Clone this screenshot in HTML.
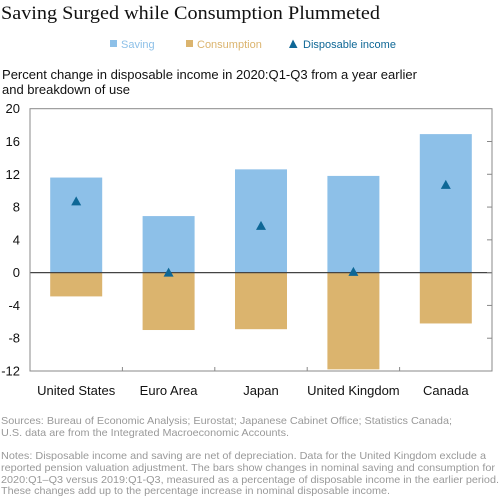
<!DOCTYPE html>
<html><head><meta charset="utf-8"><style>
html,body{margin:0;padding:0;background:#fff;width:500px;height:499px;overflow:hidden}
svg{display:block;font-family:"Liberation Sans",Arial,sans-serif}
</style></head><body>
<svg id="chart" width="500" height="499" viewBox="0 0 500 499">
<text x="1" y="19" font-family="Liberation Serif,serif" font-size="19" fill="#111" textLength="379" lengthAdjust="spacingAndGlyphs">Saving Surged while Consumption Plummeted</text>
<g font-size="11">
<g><rect x="110" y="40" width="7" height="7" fill="#8dc0e8"/><text x="121" y="48" fill="#8dc0e8">Saving</text></g>
<g><rect x="186" y="40" width="7" height="7" fill="#dbb46e"/><text x="197" y="48" fill="#dbb46e">Consumption</text></g>
<g><polygon points="289,48 293,39.5 297.5,48" fill="#0e6796"/><text x="303" y="48" fill="#0e6796">Disposable income</text></g>
</g>
<text x="2" y="79" font-size="13" fill="#111" textLength="415" lengthAdjust="spacingAndGlyphs">Percent change in disposable income in 2020:Q1-Q3 from a year earlier</text>
<text x="2" y="94" font-size="13" fill="#111">and breakdown of use</text>
<g id="plot"></g>
<g font-size="10.3" fill="#999">
<text x="1" y="424" textLength="451" lengthAdjust="spacingAndGlyphs">Sources: Bureau of Economic Analysis; Eurostat; Japanese Cabinet Office; Statistics Canada;</text>
<text x="1" y="436" textLength="288" lengthAdjust="spacingAndGlyphs">U.S. data are from the Integrated Macroeconomic Accounts.</text>
<text x="1" y="459" textLength="485" lengthAdjust="spacingAndGlyphs">Notes: Disposable income and saving are net of depreciation. Data for the United Kingdom exclude a</text>
<text x="1" y="471" textLength="494" lengthAdjust="spacingAndGlyphs">reported pension valuation adjustment. The bars show changes in nominal saving and consumption for</text>
<text x="1" y="483" textLength="498" lengthAdjust="spacingAndGlyphs">2020:Q1–Q3 versus 2019:Q1-Q3, measured as a percentage of disposable income in the earlier period.</text>
<text x="1" y="494" textLength="389" lengthAdjust="spacingAndGlyphs">These changes add up to the percentage increase in nominal disposable income.</text>
</g>
</svg>
<script>
const categories = ["United States","Euro Area","Japan","United Kingdom","Canada"];
const saving = [11.6, 6.9, 12.6, 11.8, 16.9];
const consumption = [-2.9, -7.0, -6.9, -11.8, -6.2];
const disposableIncome = [8.7, 0.0, 5.7, 0.1, 10.7];
const yTicks = [20,16,12,8,4,0,-4,-8,-12];

const NS="http://www.w3.org/2000/svg";
const L=30,R=492,T=108.7,B=371,yMin=-12,yMax=20;
const y=v=>T+(yMax-v)/(yMax-yMin)*(B-T);
const band=(R-L)/categories.length;
const xc=i=>L+band*(i+0.5);
const bw=52;
const plot=document.getElementById('plot');
function mk(tag,attrs,parent){const e=document.createElementNS(NS,tag);for(const k in attrs)e.setAttribute(k,attrs[k]);(parent||plot).appendChild(e);return e;}

categories.forEach((c,i)=>{
  const s=mk('rect',{x:xc(i)-bw/2,y:y(saving[i]),width:bw,height:y(0)-y(saving[i]),fill:'#8dc0e8'});
  
  
  const cn=mk('rect',{x:xc(i)-bw/2,y:y(0),width:bw,height:y(consumption[i])-y(0),fill:'#dbb46e'});
  
  
});
const zl=mk('line',{x1:L,x2:R,y1:y(0),y2:y(0),stroke:'#444','stroke-width':1.3});


categories.forEach((c,i)=>{
  const yy=y(disposableIncome[i]),x=xc(i);
  const t=mk('polygon',{points:`${x-5},${yy+4} ${x},${yy-5} ${x+5},${yy+4}`,fill:'#0e6796'});
  
  
  const lb=mk('text',{x:x,y:395,'text-anchor':'middle','font-size':13,fill:'#111'});
  lb.textContent=c;
  
  
  if(i>0){const tk=mk('line',{x1:L+band*i,x2:L+band*i,y1:B,y2:B-4,stroke:'#888'});
  
  }
});
const fr=mk('rect',{x:L,y:T,width:R-L,height:B-T,fill:'none',stroke:'#888','stroke-width':1});


yTicks.forEach(v=>{
  const t=mk('text',{x:20,y:y(v)+4.5,'text-anchor':'end','font-size':13,fill:'#111'});
  t.textContent=v;
  
  
  if(v!==yMax&&v!==yMin){const tk=mk('line',{x1:R,x2:R-5,y1:y(v),y2:y(v),stroke:'#888'});
  
  }
});
</script>
</body></html>
